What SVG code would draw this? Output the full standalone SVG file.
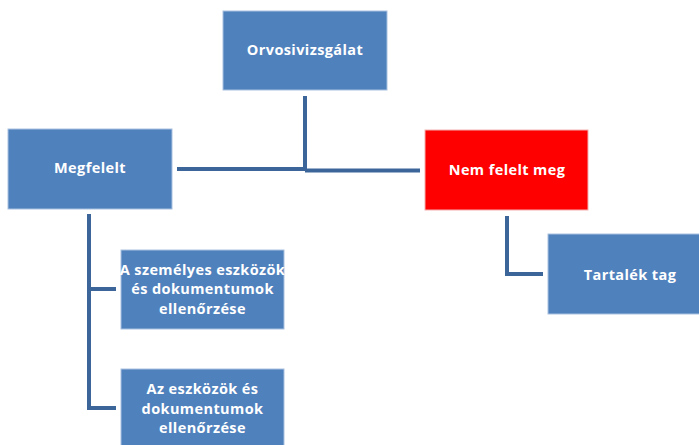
<svg xmlns="http://www.w3.org/2000/svg" width="699" height="445" viewBox="0 0 699 445">
<style>
.box{fill:#4F81BD;stroke:#A9C1DF;stroke-width:1}
.red{fill:#FF0000;stroke:#F4B0B0;stroke-width:1}
.t{fill:#FFFFFF;font-family:"Open Sans","Liberation Sans",sans-serif;font-weight:bold;font-size:14.5px;letter-spacing:0.4px;text-anchor:middle}
.c{fill:none;stroke:#3C6699;stroke-width:4;stroke-linejoin:miter}
</style>
<rect width="699" height="445" fill="#FFFFFF"/>
<g id="connectors">
<path class="c" d="M305,96 V170"/>
<path class="c" d="M177,169 H305 M305,170.5 H420"/>
<path class="c" d="M507,216 V274 H543"/>
<path class="c" d="M89,214 V408 H116 M89,289 H116"/>
</g>
<g id="orvosi">
<rect class="box" x="223" y="11" width="164" height="79"/>
<text class="t" x="305" y="55">Orvosivizsgálat</text>
</g>
<g id="megfelelt">
<rect class="box" x="8" y="129" width="164" height="80"/>
<text class="t" x="90" y="173">Megfelelt</text>
</g>
<g id="nemfelelt">
<rect class="red" x="425" y="130" width="163" height="80"/>
<text class="t" x="507" y="175">Nem felelt meg</text>
</g>
<g id="tartalek">
<rect class="box" x="548" y="234" width="152" height="80"/>
<text class="t" x="630" y="280">Tartalék tag</text>
</g>
<g id="szemelyes">
<rect class="box" x="121" y="250" width="163" height="79"/>
<text class="t" x="202.5" y="275">A személyes eszközök</text>
<text class="t" x="202.5" y="294">és dokumentumok</text>
<text class="t" x="202.5" y="314">ellenőrzése</text>
</g>
<g id="eszkozok">
<rect class="box" x="121" y="369" width="163" height="80"/>
<text class="t" x="202.5" y="394">Az eszközök és</text>
<text class="t" x="202.5" y="414">dokumentumok</text>
<text class="t" x="202.5" y="433">ellenőrzése</text>
</g>
</svg>
